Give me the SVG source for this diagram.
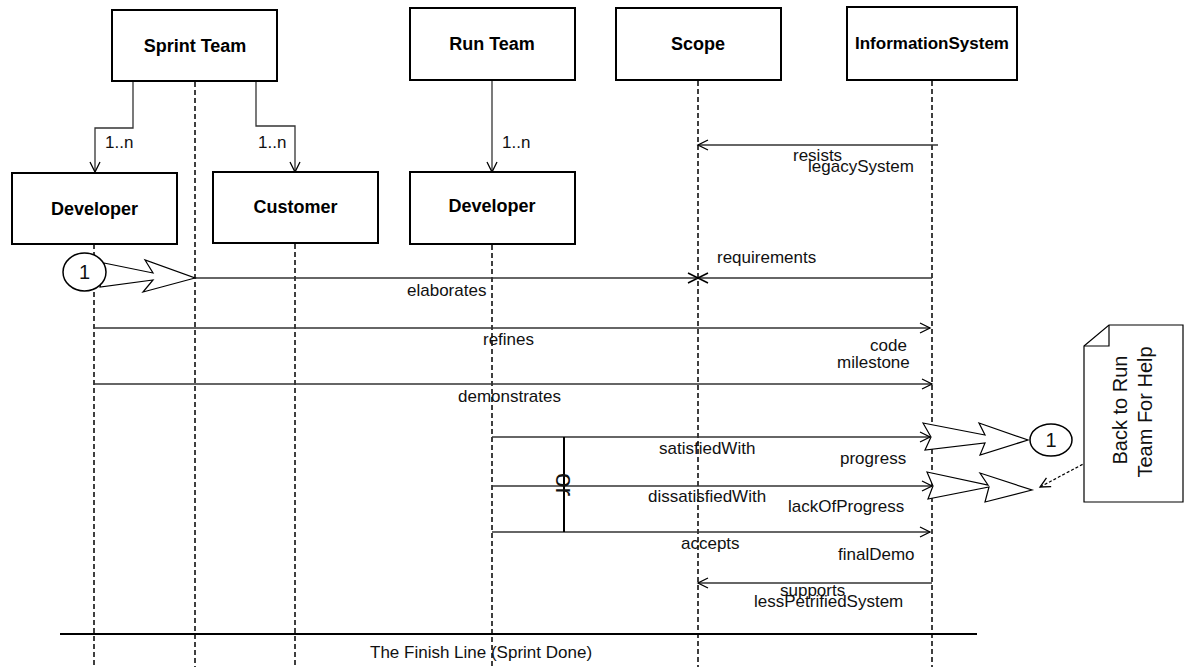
<svg xmlns="http://www.w3.org/2000/svg" width="1187" height="667" viewBox="0 0 1187 667">
<style>
.box{fill:#fff;stroke:#000;stroke-width:2}
.bl{font-family:"Liberation Sans",Arial,sans-serif;font-weight:bold;font-size:18px;fill:#000;text-anchor:middle}
.t{font-family:"Liberation Sans",Arial,sans-serif;font-size:17px;fill:#111}
.life{stroke:#000;stroke-width:1.5;stroke-dasharray:5,3;fill:none}
.msg{stroke:#333;stroke-width:1.3;fill:none}
.big{fill:#fff;stroke:#000;stroke-width:1.2;stroke-linejoin:miter}
</style>
<defs>
<marker id="open" markerWidth="14" markerHeight="14" refX="11" refY="6" orient="auto" markerUnits="userSpaceOnUse">
<path d="M1,1 L11,6 L1,11" fill="none" stroke="#000" stroke-width="1.3"/>
</marker>
</defs>
<rect width="1187" height="667" fill="#fff"/>

<g id="lifelines">
<line class="life" x1="94" y1="244" x2="94" y2="667"/>
<line class="life" x1="195" y1="82" x2="195" y2="667"/>
<line class="life" x1="295" y1="244" x2="295" y2="667"/>
<line class="life" x1="492" y1="245" x2="492" y2="667"/>
<line class="life" x1="698" y1="81" x2="698" y2="667"/>
<line class="life" x1="932" y1="81" x2="932" y2="667"/>
</g>

<g id="connectors">
<path class="msg" d="M133,81 V128 H95 V172" marker-end="url(#open)"/>
<path class="msg" d="M256,81 V126 H295 V172" marker-end="url(#open)"/>
<path class="msg" d="M492,80 V172" marker-end="url(#open)"/>
<line class="msg" x1="938" y1="145" x2="698" y2="145" marker-end="url(#open)"/>
<line class="msg" x1="932" y1="278" x2="700" y2="278"/>
<line class="msg" x1="195" y1="278" x2="696" y2="278"/>
<path d="M688,273 L708,283 M688,283 L708,273" stroke="#000" stroke-width="1.5"/>
<line class="msg" x1="94" y1="328" x2="930" y2="328" marker-end="url(#open)"/>
<line class="msg" x1="94" y1="384" x2="932" y2="384" marker-end="url(#open)"/>
<line class="msg" x1="492" y1="437" x2="930" y2="437" marker-end="url(#open)"/>
<line class="msg" x1="492" y1="486" x2="932" y2="486" marker-end="url(#open)"/>
<line class="msg" x1="492" y1="532" x2="930" y2="532" marker-end="url(#open)"/>
<line class="msg" x1="932" y1="583" x2="698" y2="583" marker-end="url(#open)"/>
<line x1="564" y1="437" x2="564" y2="532" stroke="#000" stroke-width="2"/>
<line x1="60" y1="634" x2="977" y2="634" stroke="#000" stroke-width="2"/>
<polygon class="big" points="104,263 153,273 145,260 195,278 143,292 153,280 100,287"/>
<polygon class="big" points="923,423 931,437 925,450 985,443 980,455 1028,440 979,423 985,435"/>
<polygon class="big" points="927,472 933,486 928,499 989,487 985,502 1032,490 980,473 988,485"/>
<line x1="1087" y1="462" x2="1040" y2="487" stroke="#000" stroke-width="1.2" stroke-dasharray="3,2" marker-end="url(#open)"/>
</g>

<g id="sprint-team"><rect class="box" x="112" y="10" width="165" height="71"/><text class="bl" x="195" y="52">Sprint Team</text></g>
<g id="run-team"><rect class="box" x="410" y="8" width="165" height="72"/><text class="bl" x="492" y="50">Run Team</text></g>
<g id="scope"><rect class="box" x="616" y="8" width="165" height="72"/><text class="bl" x="698" y="50">Scope</text></g>
<g id="information-system"><rect class="box" x="847" y="7" width="170" height="73"/><text class="bl" x="932" y="49" style="font-size:17px">InformationSystem</text></g>
<g id="developer-sprint"><rect class="box" x="12" y="173" width="165" height="71"/><text class="bl" x="94.5" y="215">Developer</text></g>
<g id="customer"><rect class="box" x="213" y="172" width="165" height="71"/><text class="bl" x="295.5" y="213">Customer</text></g>
<g id="developer-run"><rect class="box" x="410" y="172" width="165" height="72"/><text class="bl" x="492" y="212">Developer</text></g>

<g id="start-ref"><ellipse cx="84.5" cy="272" rx="21.5" ry="19" fill="#fff" stroke="#000" stroke-width="1.5"/><text class="t" x="84.5" y="279" text-anchor="middle" style="font-size:20px">1</text></g>
<g id="end-ref"><ellipse cx="1051" cy="440" rx="21" ry="16" fill="#fff" stroke="#000" stroke-width="1.5"/><text class="t" x="1051" y="447" text-anchor="middle" style="font-size:20px">1</text></g>

<g id="note">
<path d="M1084,346 L1109,325 H1183 V502 H1084 Z" fill="#fff" stroke="#000" stroke-width="1.2"/>
<path d="M1109,325 V346 H1084" fill="none" stroke="#000" stroke-width="1.2"/>
<text class="t" text-anchor="middle" transform="translate(1127,410) rotate(-90)" style="font-size:20px">Back to Run</text>
<text class="t" text-anchor="middle" transform="translate(1152,412) rotate(-90)" style="font-size:20px">Team For Help</text>
</g>

<g id="labels">
<text class="t" x="105" y="148">1..n</text>
<text class="t" x="258" y="148">1..n</text>
<text class="t" x="502" y="148">1..n</text>
<text class="t" x="793" y="161">resists</text>
<text class="t" x="808" y="172">legacySystem</text>
<text class="t" x="717" y="263">requirements</text>
<text class="t" x="407" y="296">elaborates</text>
<text class="t" x="483" y="345">refines</text>
<text class="t" x="870" y="351">code</text>
<text class="t" x="837" y="368">milestone</text>
<text class="t" x="458" y="402">demonstrates</text>
<text class="t" x="659" y="454">satisfiedWith</text>
<text class="t" x="840" y="464">progress</text>
<text class="t" x="648" y="502">dissatisfiedWith</text>
<text class="t" x="788" y="512">lackOfProgress</text>
<text class="t" x="681" y="549">accepts</text>
<text class="t" x="838" y="560">finalDemo</text>
<text class="t" x="780" y="596">supports</text>
<text class="t" x="754" y="607">lessPetrifiedSystem</text>
<text class="t" x="370" y="658">The Finish Line (Sprint Done)</text>
<text class="t" transform="translate(556,473) rotate(90)" style="font-size:26px">or</text>
</g>
</svg>
